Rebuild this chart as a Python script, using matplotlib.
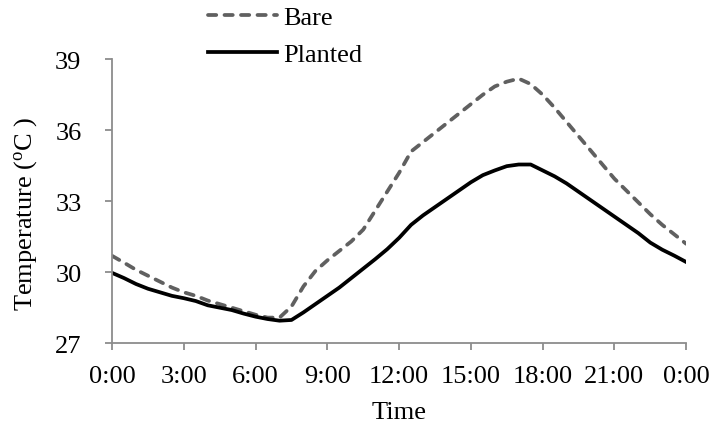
import numpy as np
import matplotlib.pyplot as plt

plt.rcParams['font.family'] = ['Liberation Serif', 'DejaVu Serif']
plt.rcParams['mathtext.fontset'] = 'custom'
plt.rcParams['mathtext.rm'] = 'Liberation Serif'

# half-hourly readings over one day (hours since midnight)
hours = np.arange(0, 24.5, 0.5)

bare = [30.69, 30.4, 30.1, 29.85, 29.6, 29.35, 29.15, 29.0, 28.8, 28.65,
        28.5, 28.35, 28.2, 28.08, 28.08, 28.55, 29.4, 30.05, 30.5, 30.9,
        31.3, 31.8, 32.6, 33.4, 34.2, 35.1, 35.5, 35.9, 36.3, 36.7,
        37.1, 37.5, 37.85, 38.05, 38.18, 37.95, 37.5, 36.95, 36.35, 35.75,
        35.15, 34.55, 33.95, 33.45, 32.95, 32.45, 32.0, 31.6, 31.2]

planted = [29.97, 29.75, 29.5, 29.3, 29.15, 29.0, 28.9, 28.78, 28.6, 28.5,
           28.4, 28.25, 28.12, 28.02, 27.95, 27.98, 28.3, 28.65, 29.0, 29.35,
           29.75, 30.15, 30.55, 30.97, 31.45, 32.0, 32.4, 32.75, 33.1, 33.45,
           33.8, 34.1, 34.3, 34.48, 34.55, 34.55, 34.3, 34.05, 33.75, 33.4,
           33.05, 32.7, 32.35, 32.0, 31.65, 31.25, 30.95, 30.7, 30.43]

xticks = [0, 3, 6, 9, 12, 15, 18, 21, 24]
xlabels = ['0:00', '3:00', '6:00', '9:00', '12:00', '15:00', '18:00', '21:00', '0:00']
yticks = [27, 30, 33, 36, 39]

fs = 19

fig = plt.figure(figsize=(7.14, 4.27), dpi=100)
ax = fig.add_axes([0.157, 0.194, 0.804, 0.665])

ax.plot(hours, bare, color='#606060', lw=2.7, ls=(0, (2.2, 2.2)),
        dash_capstyle='round', label='Bare')
ax.plot(hours, planted, color='black', lw=2.7, label='Planted')

ax.set_xlim(0, 24)
ax.set_ylim(27, 39)
ax.set_xticks(xticks)
ax.set_xticklabels(xlabels)
ax.set_yticks(yticks)

for side in ['top', 'right']:
    ax.spines[side].set_visible(False)
for side in ['left', 'bottom']:
    ax.spines[side].set_color('#8c8c8c')
    ax.spines[side].set_linewidth(1.3)
ax.tick_params(axis='both', color='#8c8c8c', length=5, width=1.3, labelsize=fs)
ax.tick_params(axis='x', pad=11)
ax.tick_params(axis='y', pad=17)

ax.set_xlabel('Time', fontsize=fs, labelpad=10)
ax.set_ylabel('Temperature ($\\mathregular{^{o}}$C )', fontsize=fs)
ax.yaxis.set_label_coords(-0.128, 0.46)

ax.legend(loc='upper left', bbox_to_anchor=(208 / 714, 0.984), bbox_transform=fig.transFigure,
          frameon=False, fontsize=fs, handlelength=2.6, handletextpad=0.25,
          labelspacing=0.52, borderpad=0, borderaxespad=0)

fig.savefig('out.png', dpi=100)
